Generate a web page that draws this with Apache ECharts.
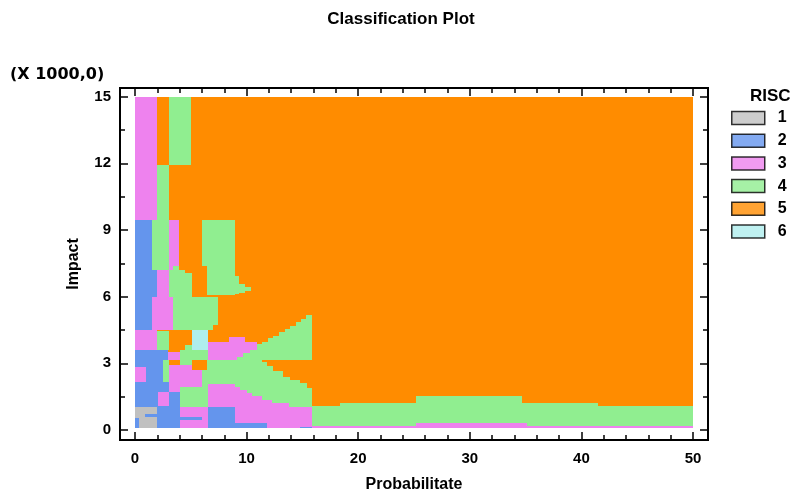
<!DOCTYPE html>
<html>
<head>
<meta charset="utf-8">
<script src="https://cdn.jsdelivr.net/npm/echarts@6/dist/echarts.min.js"></script>
<style>
  html, body { margin: 0; padding: 0; background: #ffffff; }
  #chart { width: 802px; height: 499px; }
</style>
</head>
<body>
<div id="chart"></div>
<script>
// RISC classes and their fill colours
const riscClasses = ['1', '2', '3', '4', '5', '6'];
const riscColors = ['#c0c0c0', '#6495ed', '#ee82ee', '#90ee90', '#ff8c00', '#afeeee'];

// Axis ticks (Impact in thousands)
const xMajorTicks = [0, 10, 20, 30, 40, 50];
const xMinorTicks = [0, 2, 4, 6, 8, 10, 12, 14, 16, 18, 20, 22, 24, 26, 28, 30, 32, 34, 36, 38, 40, 42, 44, 46, 48, 50];
const yMajorTicks = [0, 3, 6, 9, 12, 15];
const yMinorTicks = [0, 1.5, 3, 4.5, 6, 7.5, 9, 10.5, 12, 13.5, 15];

// Classified regions: [probabilitate from, to, impact from, to (x1000), RISC class]
// Drawn in order, later regions overwrite earlier ones.
const baseField = [
  [0, 50, 0.09, 15, 5]
];

const upperField = [
  [0, 2.0, 9.46, 15, 3],
  [2.0, 3.07, 9.46, 11.94, 4],
  [3.07, 5.0, 11.94, 15, 4],
  [0, 1.5, 4.5, 9.46, 2],
  [1.5, 3.07, 7.21, 9.46, 4],
  [3.07, 3.97, 7.21, 9.46, 3],
  [1.5, 2.0, 6.0, 7.21, 2],
  [2.0, 3.07, 6.0, 7.21, 3],
  [3.43, 3.97, 7.21, 7.36, 4],
  [3.07, 4.48, 7.06, 7.21, 4],
  [3.07, 5.08, 6.0, 7.06, 4],
  [5.98, 9.0, 7.36, 9.46, 4],
  [6.45, 9.0, 6.08, 7.36, 4],
  [9.0, 9.35, 6.12, 6.95, 4],
  [9.35, 9.88, 6.15, 6.58, 4],
  [9.88, 10.42, 6.26, 6.45, 4],
  [1.5, 3.43, 4.5, 6.0, 3],
  [3.43, 7.46, 4.5, 6.0, 4],
  [6.99, 7.46, 4.5, 4.73, 5]
];

const middleField = [
  [0, 1.94, 3.6, 4.5, 3],
  [1.94, 3.07, 3.6, 4.45, 4],
  [3.07, 5.08, 3.6, 4.5, 5],
  [4.5, 5.08, 3.6, 3.83, 4],
  [5.08, 6.5, 3.6, 4.5, 6],
  [6.5, 8.4, 3.15, 3.95, 3],
  [8.4, 9.1, 3.15, 4.2, 3],
  [9.1, 9.7, 3.3, 4.2, 3],
  [9.7, 9.9, 3.45, 4.2, 3],
  [9.9, 10.3, 3.45, 3.98, 3],
  [10.3, 10.93, 3.6, 3.98, 3]
];

const lowerLeftField = [
  [0, 2.98, 3.15, 3.6, 2],
  [2.98, 4.03, 3.15, 3.5, 3],
  [4.03, 6.5, 3.15, 3.6, 4],
  [0, 1.0, 2.85, 3.15, 2],
  [1.0, 2.54, 1.73, 3.15, 2],
  [2.54, 3.07, 2.18, 3.15, 4],
  [0, 1.0, 2.18, 2.85, 3],
  [3.07, 6.0, 1.95, 2.93, 3],
  [3.07, 4.03, 1.73, 1.95, 3],
  [4.03, 6.5, 2.93, 3.15, 4],
  [5.08, 6.42, 2.7, 3.15, 5],
  [6.0, 6.5, 1.95, 2.7, 4],
  [4.03, 6.5, 1.05, 1.95, 4],
  [0, 2.09, 1.05, 2.18, 2],
  [2.54, 3.07, 1.73, 2.18, 2],
  [2.09, 3.07, 1.1, 1.73, 3],
  [3.07, 4.03, 0.09, 1.73, 2],
  [4.03, 6.57, 0.09, 1.05, 3],
  [4.03, 6.0, 0.45, 0.6, 2],
  [0, 1.94, 0.09, 1.05, 1],
  [1.94, 3.07, 0.09, 1.1, 2],
  [0, 0.4, 0.09, 0.55, 2],
  [0.9, 1.94, 0.6, 0.72, 2]
];

const wedgeField = [
  [6.57, 9.0, 1.05, 2.05, 3],
  [9.0, 15.82, 0.09, 2.0, 3],
  [6.42, 9.0, 2.05, 3.15, 4],
  [9.0, 9.1, 1.95, 3.15, 4],
  [9.1, 9.44, 1.95, 3.3, 4],
  [9.44, 9.7, 1.8, 3.3, 4],
  [9.7, 10.04, 1.8, 3.45, 4],
  [10.04, 10.3, 1.68, 3.45, 4],
  [10.3, 10.48, 1.68, 3.6, 4],
  [10.48, 10.93, 1.53, 3.6, 4],
  [10.93, 11.38, 1.53, 3.85, 4],
  [11.38, 11.9, 1.35, 3.98, 4],
  [11.9, 12.28, 1.35, 4.12, 4],
  [12.28, 12.4, 1.23, 4.12, 4],
  [12.4, 12.9, 1.23, 4.25, 4],
  [12.9, 13.4, 1.23, 4.4, 4],
  [13.4, 13.77, 1.23, 4.55, 4],
  [13.77, 13.9, 1.05, 4.55, 4],
  [13.9, 14.4, 1.05, 4.7, 4],
  [14.4, 14.9, 1.05, 4.85, 4],
  [14.9, 15.3, 1.05, 5.0, 4],
  [15.3, 15.82, 1.05, 5.18, 4],
  [11.38, 11.8, 3.05, 3.15, 5],
  [11.8, 12.4, 2.9, 3.15, 5],
  [12.4, 13.3, 2.65, 3.15, 5],
  [13.3, 13.9, 2.4, 3.15, 5],
  [13.9, 14.8, 2.25, 3.15, 5],
  [14.8, 15.4, 2.1, 3.15, 5],
  [15.4, 15.82, 1.9, 3.15, 5],
  [6.57, 9.0, 0.23, 1.05, 2],
  [6.57, 11.83, 0.09, 0.3, 2]
];

const bottomBand = [
  [15.82, 50, 0.09, 1.08, 4],
  [18.4, 41.5, 0.09, 1.23, 4],
  [25.15, 34.7, 0.09, 1.53, 4],
  [11.83, 50, 0.09, 0.16, 3],
  [25.15, 35.1, 0.09, 0.33, 3],
  [14.8, 15.82, 0.09, 0.15, 2]
];

const regions = [].concat(baseField, upperField, middleField, lowerLeftField, wedgeField, bottomBand);

const FONT = 'Liberation Sans, Arial, Helvetica, sans-serif';
const labelStyle = { fontFamily: FONT, fontWeight: 'bold', fontSize: 15, color: '#000' };
const tickLine = { color: '#000', width: 1.5 };

function makeX(position, ticks, len, withLabels) {
  return {
    type: 'value', gridIndex: 0, position: position,
    min: -1.344, max: 51.344,
    axisLine: { show: false, onZero: false },
    splitLine: { show: false },
    axisTick: { show: true, inside: true, length: len, customValues: ticks, lineStyle: tickLine },
    axisLabel: withLabels
      ? Object.assign({ customValues: ticks, margin: 11, formatter: v => String(v) }, labelStyle)
      : { show: false }
  };
}
function makeY(position, ticks, len, withLabels) {
  return {
    type: 'value', gridIndex: 0, position: position,
    min: -0.45, max: 15.39,
    axisLine: { show: false, onZero: false },
    splitLine: { show: false },
    axisTick: { show: true, inside: true, length: len, customValues: ticks, lineStyle: tickLine },
    axisLabel: withLabels
      ? Object.assign({ customValues: ticks, margin: 9, formatter: v => String(v) }, labelStyle)
      : { show: false }
  };
}

const xAxes = [
  makeX('bottom', xMinorTicks, 5, false),
  makeX('bottom', xMajorTicks, 8, true),
  makeX('top', xMinorTicks, 5, false),
  makeX('top', xMajorTicks, 8, false)
];
xAxes[1].name = 'Probabilitate';
xAxes[1].nameLocation = 'middle';
xAxes[1].nameGap = 37;
xAxes[1].nameTextStyle = { fontFamily: FONT, fontWeight: 'bold', fontSize: 16, color: '#000' };

const yAxes = [
  makeY('left', yMinorTicks, 5, false),
  makeY('left', yMajorTicks, 8, true),
  makeY('right', yMinorTicks, 5, false),
  makeY('right', yMajorTicks, 8, false)
];
yAxes[1].name = 'Impact';
yAxes[1].nameLocation = 'middle';
yAxes[1].nameGap = 38;
yAxes[1].nameRotate = 90;
yAxes[1].nameTextStyle = { fontFamily: FONT, fontWeight: 'bold', fontSize: 16, color: '#000' };

const legendSeries = riscClasses.map((name, i) => ({
  name: name,
  type: 'scatter',
  xAxisIndex: 0, yAxisIndex: 0,
  data: [],
  itemStyle: { color: riscColors[i] }
}));

const chart = echarts.init(document.getElementById('chart'), null, { renderer: 'canvas' });
chart.setOption({
  animation: false,
  backgroundColor: '#ffffff',
  title: {
    text: 'Classification Plot',
    left: 'center', top: 6,
    textStyle: { fontFamily: FONT, fontWeight: 'bold', fontSize: 17, color: '#000' }
  },
  grid: {
    left: 120, top: 88, width: 588, height: 352,
    show: true, borderColor: '#000', borderWidth: 2, backgroundColor: 'transparent'
  },
  xAxis: xAxes,
  yAxis: yAxes,
  legend: {
    orient: 'vertical',
    left: 731, top: 110,
    padding: 0,
    icon: 'rect',
    itemWidth: 33, itemHeight: 13, itemGap: 6.7,
    selectedMode: false,
    itemStyle: { borderColor: '#000', borderWidth: 1.5 },
    textStyle: { fontFamily: FONT, fontWeight: 'bold', fontSize: 16, color: '#000', padding: [0, 0, 0, 8] },
    data: riscClasses
  },
  graphic: [
    { type: 'text', left: 750, top: 88,
      style: { text: 'RISC', fontFamily: FONT, fontWeight: 'bold', fontSize: 17, fill: '#000' } },
    { type: 'text', left: 10, top: 67,
      style: { text: '(X 1000,0)', fontFamily: 'DejaVu Sans, Liberation Sans, sans-serif', fontWeight: 'bold', fontSize: 16, fill: '#000' } }
  ],
  series: [
    {
      type: 'custom',
      name: 'regions',
      xAxisIndex: 0, yAxisIndex: 0,
      encode: { x: [0, 1], y: [2, 3] },
      data: regions,
      renderItem: function (params, api) {
        const tl = api.coord([api.value(0), api.value(3)]);
        const br = api.coord([api.value(1), api.value(2)]);
        const color = riscColors[api.value(4) - 1];
        // snap to whole pixels so neighbouring cells meet without seams
        const x = Math.round(tl[0]), y = Math.round(tl[1]);
        return {
          type: 'rect',
          shape: { x: x, y: y, width: Math.round(br[0]) - x, height: Math.round(br[1]) - y },
          style: { fill: color }
        };
      }
    }
  ].concat(legendSeries)
});
</script>
</body>
</html>
